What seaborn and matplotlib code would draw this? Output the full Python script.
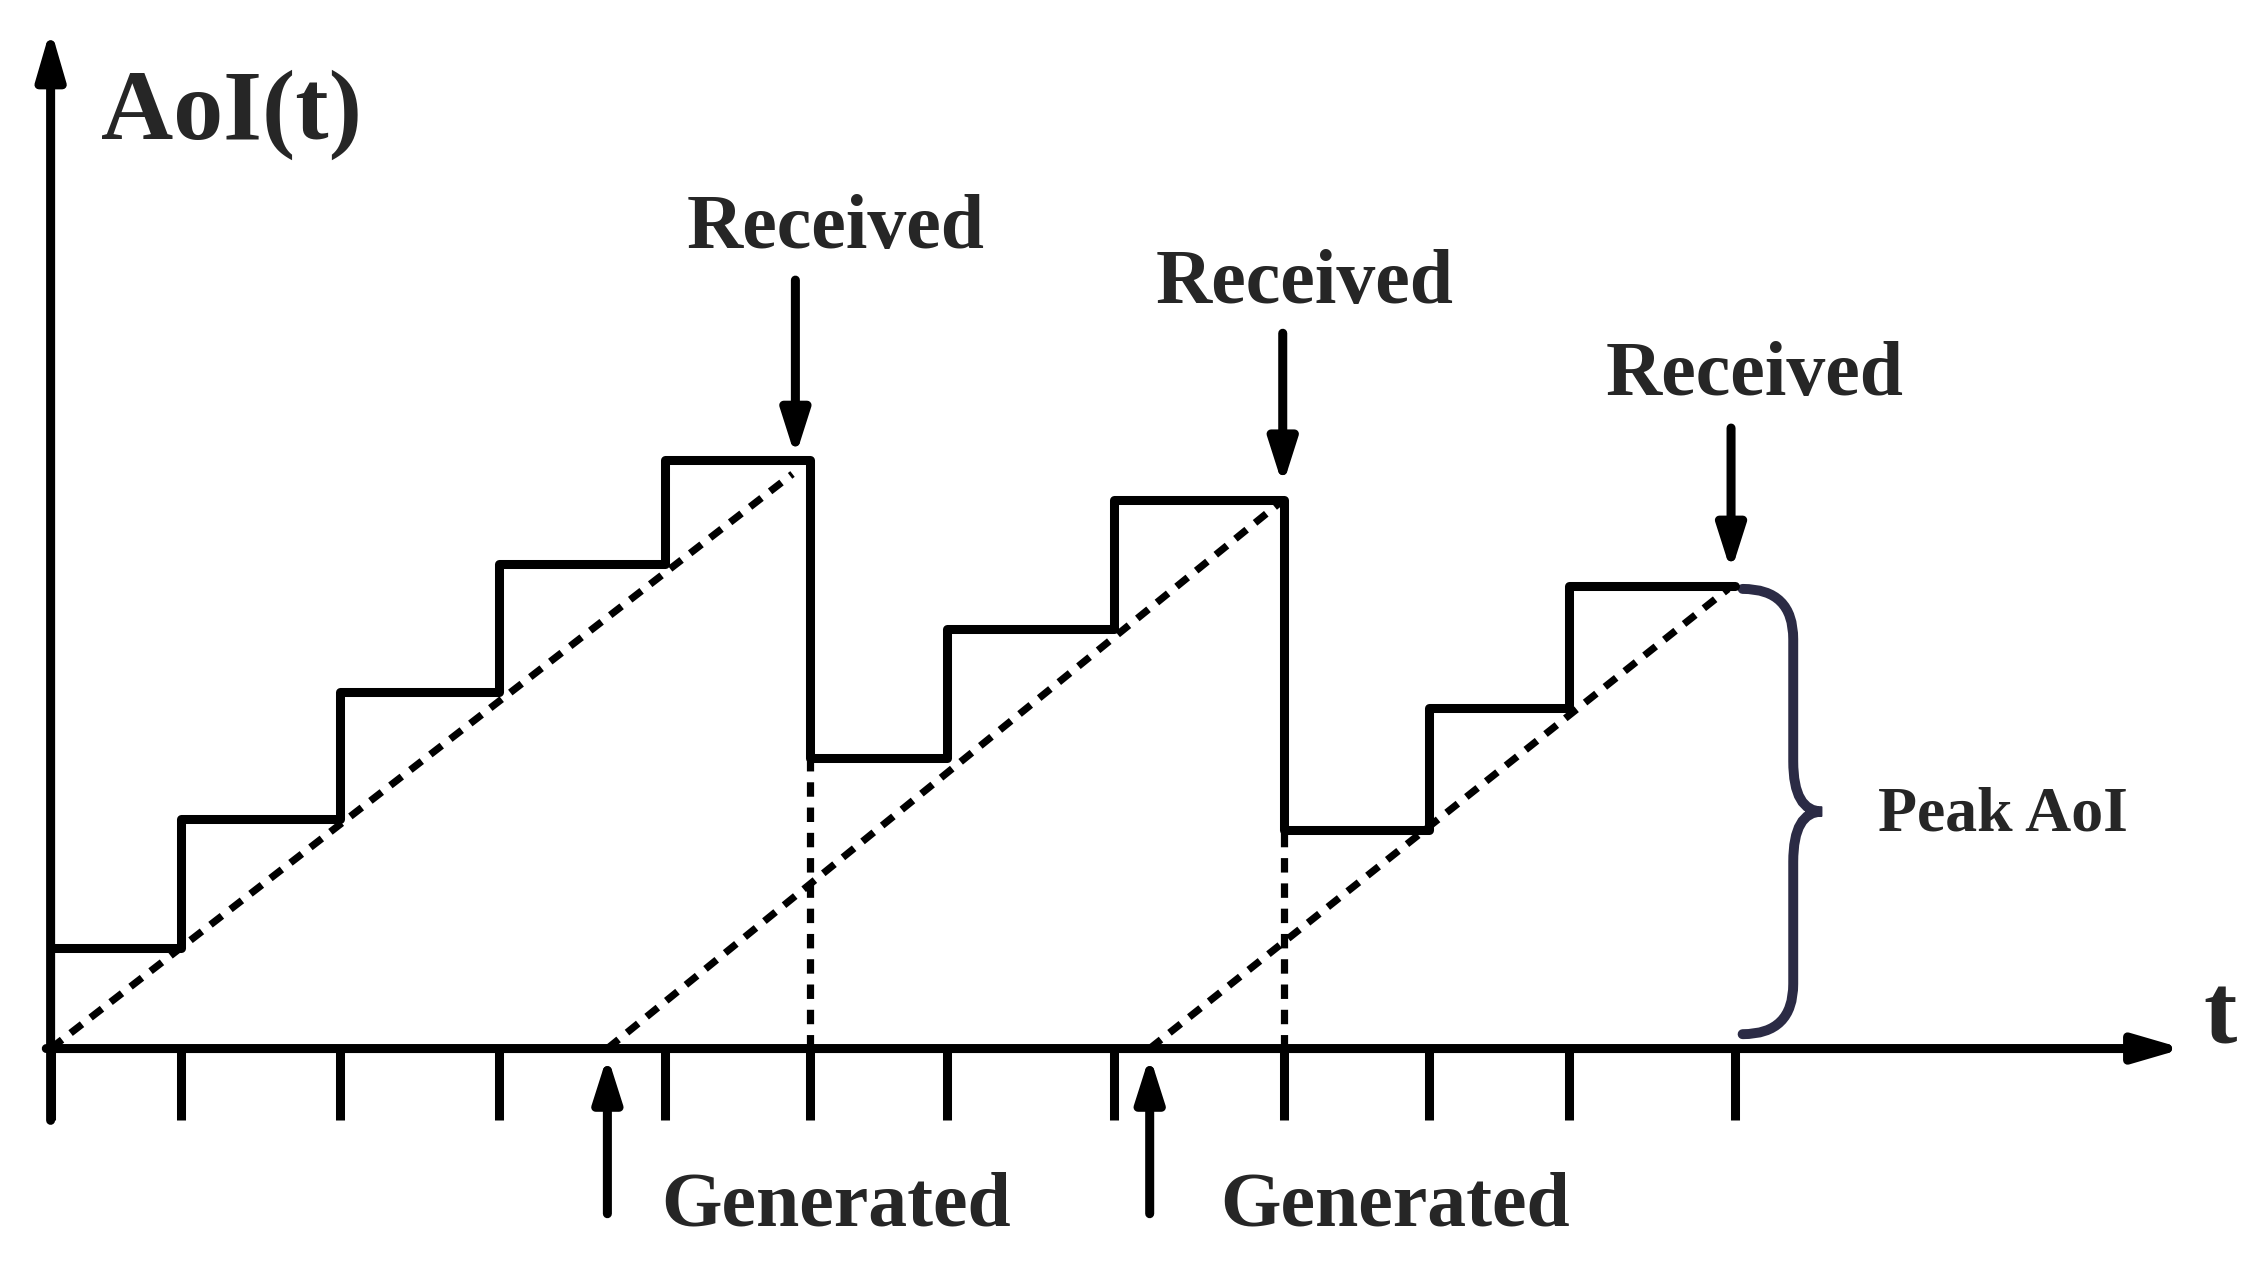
import matplotlib
matplotlib.use("Agg")
import matplotlib.pyplot as plt
import seaborn as sns
import pandas as pd
from matplotlib.path import Path
from matplotlib.patches import PathPatch

sns.set_theme(style="white")
plt.rcParams['font.family'] = ['Liberation Serif', 'DejaVu Serif']

tick_x = [0, 0.9, 2.0, 3.1, 4.25, 5.25, 6.2, 7.35, 8.53, 9.53, 10.5, 11.65]
step_y = [0.7, 1.6, 2.48, 3.37, 4.1, 2.02, 2.92, 3.82, 1.52, 2.37, 3.22, 3.22]
gen_x = [0.0, 3.85, 7.6]
recv_x = [5.13, 8.5, 11.6]
recv_y = [4.0, 3.8, 3.2]
drop_x = [5.25, 8.53]
drop_y = [2.02, 1.52]

fig = plt.figure(figsize=(22.56, 12.64), dpi=100)
ax = fig.add_axes([0, 0, 1, 1])
ax.set_xlim(-0.35, 15.25)
ax.set_ylim(-1.5, 7.3)
ax.axis('off')
lw = 6.5

df = pd.DataFrame({'x': tick_x, 'y': step_y})
sns.lineplot(data=df, x='x', y='y', drawstyle='steps-post', color='black', lw=lw, ax=ax)
for i in range(3):
    d = pd.DataFrame({'x': [gen_x[i], recv_x[i]], 'y': [0, recv_y[i]]})
    sns.lineplot(data=d, x='x', y='y', color='black', lw=lw*0.8, ls=(0, (2, 1.5)), ax=ax)
for x, y in zip(drop_x, drop_y):
    ax.plot([x, x], [0, y], color='black', lw=lw*0.8, ls=(0, (2, 1.5)))
for x in tick_x:
    ax.plot([x, x], [0, -0.5], color='black', lw=lw, solid_capstyle='butt')

# axes arrows
ax.annotate('', xy=(14.75, 0), xytext=(-0.03, 0),
            arrowprops=dict(arrowstyle='-|>,head_length=2.4,head_width=0.7', color='black', lw=lw, shrinkA=0, shrinkB=0))
ax.annotate('', xy=(0, 7.1), xytext=(0, -0.5),
            arrowprops=dict(arrowstyle='-|>,head_length=2.4,head_width=0.7', color='black', lw=lw, shrinkA=0, shrinkB=0))

ax.text(0.35, 6.5, 'AoI(t)', fontsize=72, fontweight='bold', va='center', ha='left')
ax.text(15.0, 0.2, 't', fontsize=72, fontweight='bold', va='center', ha='center')

recv_lbl_x = [5.43, 8.67, 11.78]
recv_lbl_y = [5.7, 5.32, 4.68]
recv_top = [5.35, 4.98, 4.32]
for lx, ly, ax_x, top, ry in zip(recv_lbl_x, recv_lbl_y, recv_x, recv_top, recv_y):
    ax.text(lx, ly, 'Received', fontsize=56, fontweight='bold', ha='center', va='center')
    ax.annotate('', xy=(ax_x + 0.02, ry + 0.12), xytext=(ax_x + 0.02, top),
                arrowprops=dict(arrowstyle='-|>,head_length=2.2,head_width=0.7', color='black', lw=lw, shrinkA=0, shrinkB=0))

gen_lbl_x = [5.43, 9.3]
for gx, lx in zip(gen_x[1:], gen_lbl_x):
    ax.annotate('', xy=(gx, -0.05), xytext=(gx, -1.15),
                arrowprops=dict(arrowstyle='-|>,head_length=2.2,head_width=0.7', color='black', lw=lw, shrinkA=0, shrinkB=0))
    ax.text(lx, -1.1, 'Generated', fontsize=56, fontweight='bold', ha='center', va='center')

# brace
c = '#2b2b45'
x0, x1, xt = 11.7, 12.05, 12.25
ytop, ybot = 3.2, 0.1
ym = (ytop + ybot) / 2
verts = [(x0, ytop), (x1, ytop), (x1, ytop - 0.35), (x1, ym + 0.35),
         (x1, ym), (xt, ym), (x1, ym), (x1, ym - 0.35), (x1, ybot + 0.35),
         (x1, ybot), (x0, ybot)]
codes = [Path.MOVETO, Path.CURVE3, Path.CURVE3, Path.LINETO,
         Path.CURVE3, Path.CURVE3, Path.CURVE3, Path.CURVE3, Path.LINETO,
         Path.CURVE3, Path.CURVE3]
ax.add_patch(PathPatch(Path(verts, codes), fill=False, color=c, lw=lw*1.1, capstyle='round'))
ax.text(13.5, 1.62, 'Peak AoI', fontsize=46, fontweight='bold', ha='center', va='center')

fig.savefig('out.png', dpi=100)
